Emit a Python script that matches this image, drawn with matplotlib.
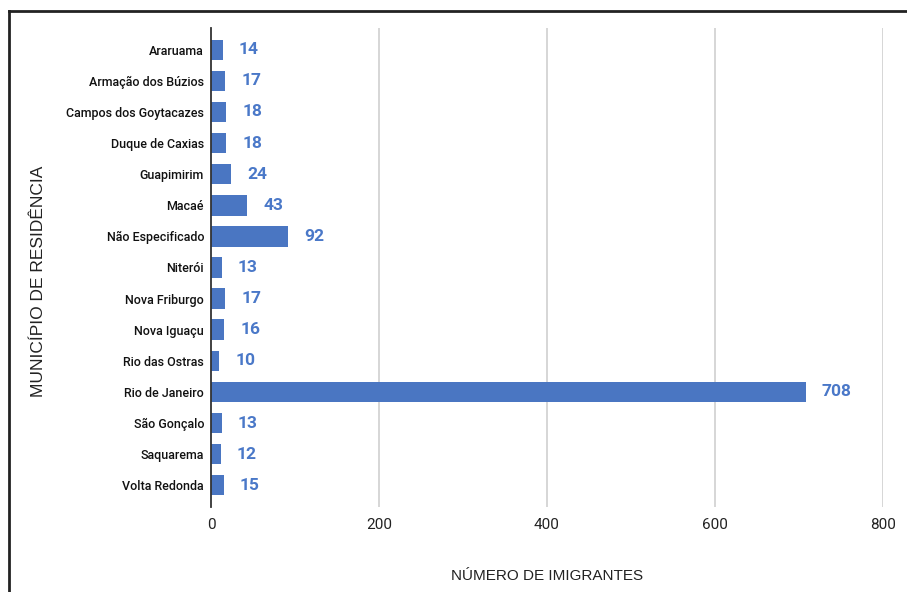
import matplotlib.pyplot as plt
from matplotlib.lines import Line2D

municipios = [
    "Araruama", "Armação dos Búzios", "Campos dos Goytacazes", "Duque de Caxias",
    "Guapimirim", "Macaé", "Não Especificado", "Niterói", "Nova Friburgo",
    "Nova Iguaçu", "Rio das Ostras", "Rio de Janeiro", "São Gonçalo",
    "Saquarema", "Volta Redonda",
]
imigrantes = [14, 17, 18, 18, 24, 43, 92, 13, 17, 16, 10, 708, 13, 12, 15]
x_ticks = [0, 200, 400, 600, 800]

bar_color = "#4a76c2"
label_color = "#4a78c8"

fig = plt.figure(figsize=(9.07, 5.92), dpi=100)
ax = fig.add_axes([211 / 907, 1 - 507 / 592, 672 / 907, 479 / 592])

pos = list(range(len(municipios)))
ax.barh(pos, imigrantes, height=0.66, color=bar_color, zorder=3)

# value labels to the right of each bar
for p, v in zip(pos, imigrantes):
    ax.annotate(str(v), (v, p), xytext=(11.5, 0), textcoords="offset points",
                ha="left", va="center", fontsize=12.5, fontweight="bold",
                color=label_color, family="Roboto")

ax.set_ylim(len(municipios) - 0.3, -0.7)
ax.set_xlim(0, 800)
ax.set_yticks(pos)
ax.set_yticklabels(municipios, fontsize=9, family="Roboto", fontweight="medium",
                   color="#111111")
ax.set_xticks(x_ticks)
ax.set_xticklabels([str(t) for t in x_ticks], fontsize=11, family="Roboto", color="#222222")
ax.tick_params(axis="y", length=0, pad=5)
ax.tick_params(axis="x", length=0, pad=8)

ax.grid(axis="x", color="#d0d0d0", linewidth=1.2, zorder=0)
ax.xaxis.get_gridlines()[0].set_visible(False)
for s in ["top", "right", "bottom"]:
    ax.spines[s].set_visible(False)
ax.spines["left"].set_color("#333333")
ax.spines["left"].set_linewidth(1.3)
ax.spines["left"].set_zorder(4)

ax.set_xlabel("NÚMERO DE IMIGRANTES", fontsize=11, family="Liberation Sans",
              color="#222222", va="center")
ax.xaxis.set_label_coords(0.5, -69 / 479)
ax.set_ylabel("MUNICÍPIO DE RESIDÊNCIA", fontsize=12.5, family="Liberation Sans",
              color="#222222", va="center")
ax.yaxis.set_label_coords(-173 / 672, 226 / 479)

# frame around the screenshot (top and left edges)
fig.add_artist(Line2D([9 / 907, 1], [1 - 11 / 592, 1 - 11 / 592], color="#222222", linewidth=2))
fig.add_artist(Line2D([9 / 907, 9 / 907], [0, 1 - 11 / 592], color="#222222", linewidth=2))

fig.savefig("out.png", dpi=100)
